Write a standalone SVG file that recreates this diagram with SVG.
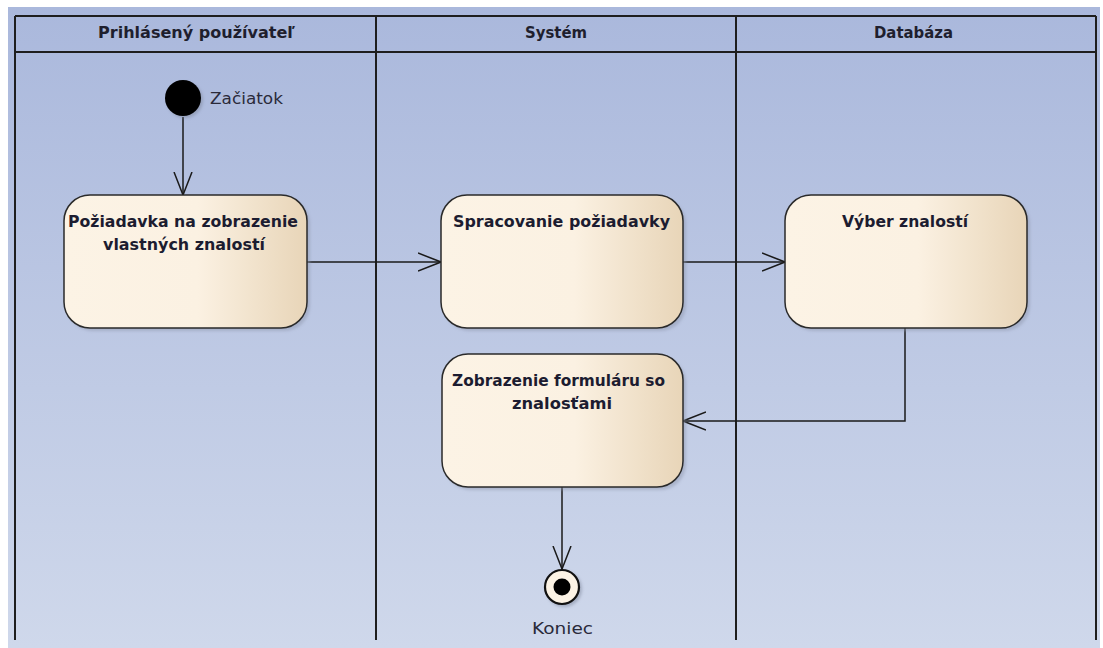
<svg xmlns="http://www.w3.org/2000/svg" width="1103" height="648" viewBox="0 0 1103 648">
  <defs>
    <linearGradient id="bg" x1="0" y1="0" x2="0" y2="1">
      <stop offset="0" stop-color="#aab8dc"/>
      <stop offset="1" stop-color="#cfd8eb"/>
    </linearGradient>
    <linearGradient id="act" x1="0" y1="0" x2="1" y2="0">
      <stop offset="0" stop-color="#fcf3e5"/>
      <stop offset="0.55" stop-color="#fbf1e2"/>
      <stop offset="1" stop-color="#e8d5b8"/>
    </linearGradient>
    <filter id="soft" x="-10%" y="-10%" width="130%" height="130%">
      <feGaussianBlur stdDeviation="1.5"/>
    </filter>
    <marker id="open" viewBox="0 0 24 20" refX="23" refY="10" markerWidth="24" markerHeight="20" markerUnits="userSpaceOnUse" orient="auto">
      <path d="M0,1 L23,10 L0,19" fill="none" stroke="#1a1a1a" stroke-width="1.5"/>
    </marker>
  </defs>
  <style>
    .lane { stroke: #1e1e1e; stroke-width: 2; fill: none; }
    .hdr { font-family: "DejaVu Sans", sans-serif; font-weight: bold; font-size: 15px; fill: #1f1f2e; text-anchor: middle; }
    .box { fill: url(#act); stroke: #2a2a2a; stroke-width: 1.5; }
    .shadow { fill: #8f97ad; opacity: 0.5; filter: url(#soft); }
    .lbl { font-family: "DejaVu Sans", sans-serif; font-weight: bold; font-size: 15px; fill: #1c1c30; text-anchor: middle; }
    .cap { font-family: "DejaVu Sans", sans-serif; font-size: 15px; fill: #2a2a3a; }
    .edge { stroke: #1a1a1a; stroke-width: 1.5; fill: none; marker-end: url(#open); }
  </style>

  <!-- canvas -->
  <rect x="0" y="0" width="1103" height="648" fill="#ffffff"/>
  <rect x="8" y="7" width="1092" height="641" fill="url(#bg)"/>

  <!-- swimlanes -->
  <g id="lanes">
    <line class="lane" x1="15" y1="16" x2="1096" y2="16"/>
    <line class="lane" x1="15" y1="52" x2="1096" y2="52"/>
    <line class="lane" x1="15" y1="16" x2="15" y2="640"/>
    <line class="lane" x1="376" y1="16" x2="376" y2="640"/>
    <line class="lane" x1="736" y1="16" x2="736" y2="640"/>
    <line class="lane" x1="1096" y1="16" x2="1096" y2="640"/>
    <text class="hdr" x="196.5" y="38" textLength="197" lengthAdjust="spacingAndGlyphs">Prihlásený používateľ</text>
    <text class="hdr" x="556" y="38" textLength="62" lengthAdjust="spacingAndGlyphs">Systém</text>
    <text class="hdr" x="913.5" y="38" textLength="79" lengthAdjust="spacingAndGlyphs">Databáza</text>
  </g>

  <!-- connectors -->
  <g id="connectors">
    <path class="edge" d="M183,117 L183,195"/>
    <path class="edge" d="M307,262 L441,262"/>
    <path class="edge" d="M683,262 L785,262"/>
    <path class="edge" d="M905,328 L905,421 L683,421"/>
    <path class="edge" d="M562,487 L562,569"/>
  </g>

  <g id="start">
    <circle cx="185" cy="100" r="18" fill="#7c849a" opacity="0.5" filter="url(#soft)"/>
    <circle cx="183" cy="98" r="18" fill="#000000"/>
    <text class="cap" x="210" y="104" textLength="73" lengthAdjust="spacingAndGlyphs">Začiatok</text>
  </g>

  <g id="poziadavka">
    <rect class="shadow" x="67" y="198" width="243" height="133" rx="26"/>
    <rect class="box" x="64" y="195" width="243" height="133" rx="26"/>
    <text class="lbl" x="183" y="227" textLength="230" lengthAdjust="spacingAndGlyphs">Požiadavka na zobrazenie</text>
    <text class="lbl" x="184" y="250" textLength="162" lengthAdjust="spacingAndGlyphs">vlastných znalostí</text>
  </g>

  <g id="spracovanie">
    <rect class="shadow" x="444" y="198" width="242" height="133" rx="26"/>
    <rect class="box" x="441" y="195" width="242" height="133" rx="26"/>
    <text class="lbl" x="561.5" y="227" textLength="217" lengthAdjust="spacingAndGlyphs">Spracovanie požiadavky</text>
  </g>

  <g id="vyber">
    <rect class="shadow" x="788" y="198" width="242" height="133" rx="26"/>
    <rect class="box" x="785" y="195" width="242" height="133" rx="26"/>
    <text class="lbl" x="905" y="227" textLength="126" lengthAdjust="spacingAndGlyphs">Výber znalostí</text>
  </g>

  <g id="zobrazenie">
    <rect class="shadow" x="445" y="357" width="241" height="133" rx="26"/>
    <rect class="box" x="442" y="354" width="241" height="133" rx="26"/>
    <text class="lbl" x="558.5" y="386" textLength="213" lengthAdjust="spacingAndGlyphs">Zobrazenie formuláru so</text>
    <text class="lbl" x="562" y="409" textLength="100" lengthAdjust="spacingAndGlyphs">znalosťami</text>
  </g>

  <g id="koniec">
    <circle cx="564" cy="589" r="18" fill="#7c849a" opacity="0.5" filter="url(#soft)"/>
    <circle cx="562" cy="587" r="17" fill="#fcf3e5" stroke="#111111" stroke-width="2.2"/>
    <circle cx="562" cy="587" r="8.5" fill="#000000"/>
    <text class="cap" x="562.5" y="634" text-anchor="middle" textLength="61" lengthAdjust="spacingAndGlyphs">Koniec</text>
  </g>
</svg>
